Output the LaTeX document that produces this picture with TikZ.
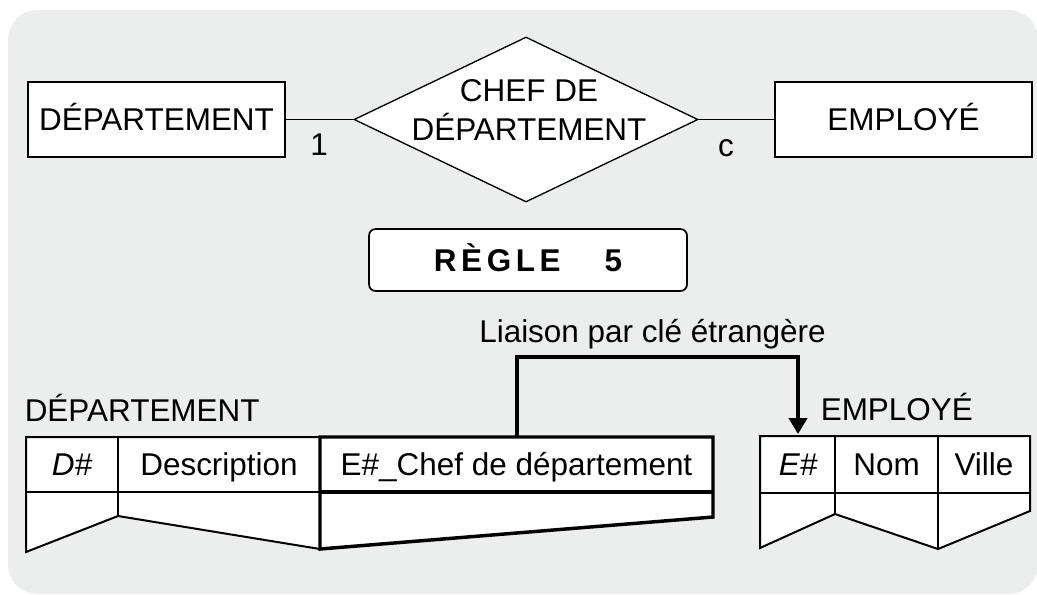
\documentclass[tikz,border=0pt]{standalone}
\usepackage{fontspec}
\setmainfont{Liberation Sans}
\usepackage{xcolor}
\usetikzlibrary{shapes.geometric,arrows.meta,positioning}
\definecolor{fond}{HTML}{ECEDED}

\begin{document}
\begin{tikzpicture}[x=0.75pt,y=-0.75pt,
  every node/.style={font=\fontsize{23.6}{29.25}\selectfont,inner sep=0pt},
  entite/.style={draw,fill=white,line width=1.3pt,minimum width=192.75pt,minimum height=56.25pt,text height=16.9pt,text depth=0pt},
  relation/.style={diamond,draw,fill=white,line width=1pt,aspect=2,minimum width=258pt,minimum height=123.75pt},
  regle/.style={draw,fill=white,line width=1.3pt,rounded corners=5pt,minimum width=238.5pt,minimum height=46.5pt,text height=16.9pt,text depth=0pt,font=\fontsize{23.6}{28}\selectfont\bfseries},
  cellule/.style={minimum height=41.25pt,text height=16.9pt,text depth=0pt},
  mince/.style={line width=1.5pt,line join=miter},
  epais/.style={line width=2.6pt,line join=miter},
  lien/.style={line width=3pt,-{Triangle[width=13.5pt,length=12pt]}}]
\useasboundingbox (0,0) rectangle (1037,594);
\fill[fond,rounded corners=22pt] (8,10) rectangle (1038,594);

\node[entite] (dept) at (156.5,119.5) {DÉPARTEMENT};
\node[relation] (chef) at (526,119.5) {};
\node[align=center] (cheflbl) at (529,110.5) {CHEF DE\\DÉPARTEMENT};
\node[entite] (empl) at (903.5,119.5) {EMPLOYÉ};
\draw[line width=1pt] (dept.east) -- (chef.west);
\draw[line width=1pt] (chef.east) -- (empl.west);
\node (card1) at (319,145) {1};
\node (cardc) at (726,148.5) {c};

\node[regle] (regle) at (528,260) {R\kern3.4ptÈ\kern3.4ptG\kern3.4ptL\kern3.4ptE\kern33pt5};

\node[anchor=base west] (lbldept) at (24.5,421) {DÉPARTEMENT};
\node[anchor=base west] (lblempl) at (820.5,420) {EMPLOYÉ};
\node[anchor=base west] (lbllien) at (479,342) {Liaison par clé étrangère};

\fill[white] (26,437) -- (713,437) -- (713,517) -- (320,549) -- (118,516) -- (26,552) -- cycle;
\draw[mince] (320,437) -- (26,437) -- (26,552) -- (118,516) -- (320,549);
\draw[mince] (26,492) -- (320,492);
\draw[mince] (118,437) -- (118,516);
\draw[epais] (320,437) -- (713,437) -- (713,517) -- (320,549) -- cycle;
\draw[epais] (320,492) -- (713,492);

\draw[mince,fill=white] (760,436) -- (1030,436) -- (1030,511) -- (938,549) -- (835,514) -- (760,548) -- cycle;
\draw[mince] (760,493) -- (1030,493);
\draw[mince] (835,436) -- (835,514);
\draw[mince] (938,436) -- (938,549);

\node[cellule,minimum width=69pt] (cd) at (72,464.5) {\itshape D\#};
\node[cellule,minimum width=151.5pt] (cdesc) at (219,464.5) {Description};
\node[cellule,minimum width=294.75pt] (cchef) at (516.5,464.5) {E\#\_Chef de département};
\node[cellule,minimum width=56.25pt] (ce) at (798,464.5) {\itshape E\#};
\node[cellule,minimum width=77.25pt] (cnom) at (886.5,464.5) {Nom};
\node[cellule,minimum width=69pt] (cville) at (984,464.5) {Ville};

\draw[lien] (cchef.north) -- ++(0,-80) -| ([yshift=2pt]ce.north);
\end{tikzpicture}
\end{document}
